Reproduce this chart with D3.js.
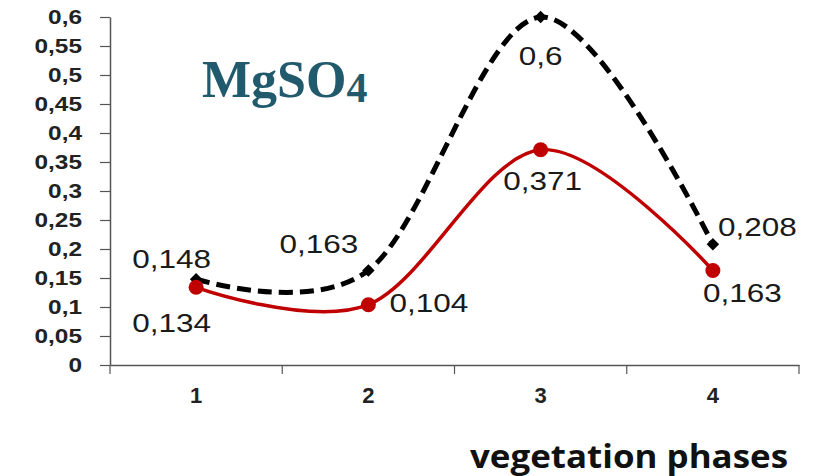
<!DOCTYPE html>
<html>
<head>
<meta charset="utf-8">
<script src="https://cdn.jsdelivr.net/npm/d3@7"></script>
<style>
body { margin: 0; background: #fff; }
text { font-family: "Liberation Sans", Arial, sans-serif; }
</style>
</head>
<body>
<div id="chart-area"></div>
<script>
var phases = ['1', '2', '3', '4'];
var blackValues = [0.148, 0.163, 0.6, 0.208];
var redValues = [0.134, 0.104, 0.371, 0.163];
var yTicks = [0, 0.05, 0.1, 0.15, 0.2, 0.25, 0.3, 0.35, 0.4, 0.45, 0.5, 0.55, 0.6];

var width = 822, height = 476;
var plot = { left: 110, right: 799, top: 17, bottom: 365 };

var svg = d3.select('#chart-area')
	.append('svg')
	.attr('width', width)
	.attr('height', height);

var x = d3.scaleBand()
	.domain(phases)
	.range([plot.left, plot.right]);
var y = d3.scaleLinear()
	.domain([0, 0.6])
	.range([plot.bottom, plot.top]);

var fmt = d => String(d).replace('.', ',');

// the source picture is stretched sideways, so widen the glyphs a bit
function stretch(sel, k) {
	sel.each(function () {
		var len = this.getComputedTextLength();
		d3.select(this)
			.attr('textLength', len * k)
			.attr('lengthAdjust', 'spacingAndGlyphs');
	});
}

// y axis
var yAxis = svg.append('g')
	.attr('transform', `translate(${plot.left}, 0)`)
	.call(d3.axisLeft(y).tickValues(yTicks).tickSize(10).tickSizeOuter(0).tickFormat(fmt));
yAxis.select('.domain').attr('stroke', '#555').attr('stroke-width', 1.5);
yAxis.selectAll('.tick line').attr('stroke', '#555').attr('stroke-width', 1.2);
yAxis.selectAll('.tick text')
	.attr('x', -28)
	.attr('font-size', '20px')
	.attr('font-weight', 'bold')
	.attr('fill', '#222')
	.style('font-family', '"Liberation Sans", Arial, sans-serif')
	.call(stretch, 1.22);

// x axis
var xAxis = svg.append('g')
	.attr('transform', `translate(0, ${plot.bottom})`)
	.call(d3.axisBottom(x).tickSize(0).tickSizeOuter(0));
xAxis.select('.domain').attr('stroke', '#555').attr('stroke-width', 1.5);
xAxis.selectAll('.tick text')
	.attr('y', 38)
	.attr('dy', 0)
	.attr('font-size', '22px')
	.attr('font-weight', 'bold')
	.attr('fill', '#222')
	.style('font-family', '"Liberation Sans", Arial, sans-serif');
var edges = phases.map(p => x(p)).concat([plot.right]);
xAxis.selectAll('.edge')
	.data(edges)
	.enter().append('line')
	.attr('x1', d => d).attr('x2', d => d)
	.attr('y1', 0).attr('y2', 9)
	.attr('stroke', '#555')
	.attr('stroke-width', 1.2);

var cx = p => x(p) + x.bandwidth() / 2;

var line = d3.line()
	.x((d, i) => cx(phases[i]))
	.y(d => y(d))
	.curve(d3.curveCardinal.tension(0));

// black dashed series
svg.append('path')
	.datum(blackValues)
	.attr('d', line)
	.attr('fill', 'none')
	.attr('stroke', '#000')
	.attr('stroke-width', 5)
	.attr('stroke-dasharray', '14,7');

svg.selectAll('.diamond')
	.data(blackValues)
	.enter().append('path')
	.attr('d', d3.symbol().type(d3.symbolDiamond2).size(100))
	.attr('transform', (d, i) => `translate(${cx(phases[i])}, ${y(d)})`)
	.attr('fill', '#000');

// red solid series
svg.append('path')
	.datum(redValues)
	.attr('d', line)
	.attr('fill', 'none')
	.attr('stroke', '#c00000')
	.attr('stroke-width', 3.5);

svg.selectAll('.dot')
	.data(redValues)
	.enter().append('circle')
	.attr('cx', (d, i) => cx(phases[i]))
	.attr('cy', d => y(d))
	.attr('r', 7.5)
	.attr('fill', '#c00000');

// data labels: [dx, dy, anchor]
var blackOffsets = [[-64, -11, 'start'], [-89, -17, 'start'], [0, 48, 'middle'], [5, -8, 'start']];
var redOffsets = [[-64, 45, 'start'], [21, 7, 'start'], [2, 40, 'middle'], [-10, 32, 'start']];

function labels(values, offs) {
	values.forEach((v, i) => {
		svg.append('text')
			.attr('x', cx(phases[i]) + offs[i][0])
			.attr('y', y(v) + offs[i][1])
			.attr('text-anchor', offs[i][2])
			.attr('font-size', '25px')
			.attr('fill', '#1a1a1a')
			.text(fmt(v))
			.call(stretch, 1.26);
	});
}
labels(blackValues, blackOffsets);
labels(redValues, redOffsets);

// title
var title = svg.append('text')
	.attr('x', 202)
	.attr('y', 97)
	.attr('font-size', '52px')
	.attr('font-weight', 'bold')
	.attr('fill', '#215a6c')
	.style('font-family', '"Liberation Serif", "DejaVu Serif", serif');
title.append('tspan').text('MgSO');
title.append('tspan')
	.attr('font-size', '42px')
	.attr('dy', 5)
	.text('4');

// x axis title
svg.append('text')
	.attr('x', 470)
	.attr('y', 468)
	.attr('font-size', '32px')
	.attr('font-weight', 'bold')
	.attr('fill', '#111')
	.attr('textLength', 318)
	.attr('lengthAdjust', 'spacingAndGlyphs')
	.style('font-family', '"Open Sans", "Liberation Sans", sans-serif')
	.text('vegetation phases');
</script>
</body>
</html>
